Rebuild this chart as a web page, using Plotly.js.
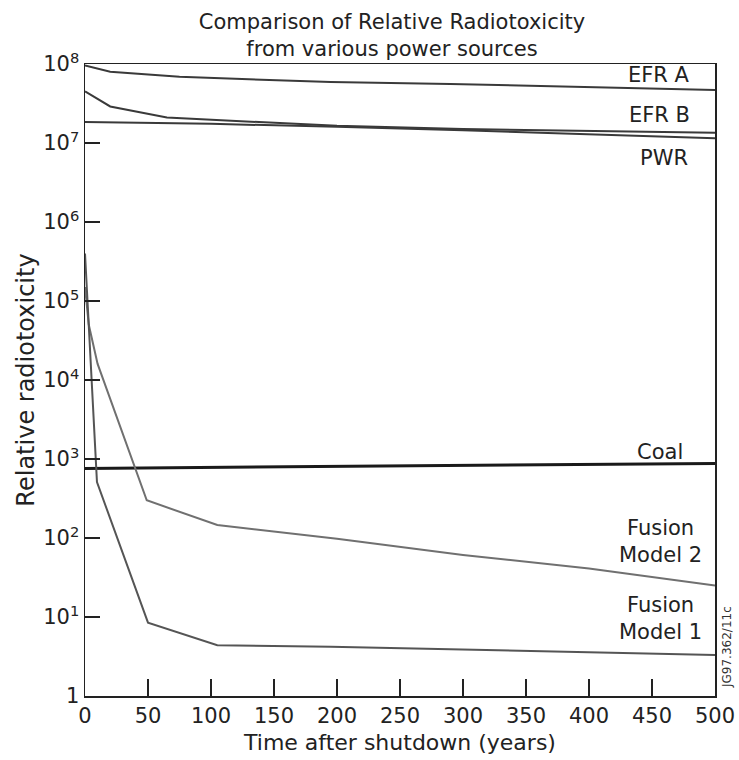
<!DOCTYPE html>
<html>
<head>
<meta charset="utf-8">
<script src="https://cdn.plot.ly/plotly-3.0.1.min.js"></script>
<style>html,body{margin:0;padding:0;background:#fff;}#chart{width:739px;height:760px;}</style>
</head>
<body>
<div id="chart"></div>
<script>
// Years after shutdown and relative radiotoxicity
const efrA_t = [0, 20, 75, 195, 290, 500];
const efrA_v = [9.6e7, 8.0e7, 6.9e7, 5.9e7, 5.6e7, 4.7e7];

const efrB_t = [0, 20, 65, 200, 300, 500];
const efrB_v = [4.5e7, 2.9e7, 2.1e7, 1.65e7, 1.5e7, 1.35e7];

const pwr_t = [0, 100, 200, 300, 500];
const pwr_v = [1.85e7, 1.75e7, 1.6e7, 1.45e7, 1.15e7];

const coal_t = [0, 500];
const coal_v = [760, 880];

const fus2_t = [0, 3, 10, 49, 105, 200, 300, 400, 500];
const fus2_v = [1.5e5, 5e4, 1.6e4, 300, 146, 98, 61, 41, 25];

const fus1_t = [0, 9.5, 50, 105, 195, 395, 500];
const fus1_v = [4e5, 510, 8.5, 4.4, 4.2, 3.6, 3.3];

const yTickVals = [1, 10, 100, 1e3, 1e4, 1e5, 1e6, 1e7, 1e8];
const yTickText = ['1', '10<sup>1</sup>', '10<sup>2</sup>', '10<sup>3</sup>', '10<sup>4</sup>',
                   '10<sup>5</sup>', '10<sup>6</sup>', '10<sup>7</sup>', '10<sup>8</sup>'];
const xTickVals = [0, 50, 100, 150, 200, 250, 300, 350, 400, 450, 500];

const seriesLabels = ['EFR A', 'EFR B', 'PWR', 'Coal', 'Fusion<br>Model 2', 'Fusion<br>Model 1'];

const FONT = 'DejaVu Sans, Liberation Sans, Arial, sans-serif';
const dark = '#3a3a3a';
const grey = '#707070';

function line(x, y, color, width, name) {
  return {x: x, y: y, type: 'scatter', mode: 'lines', name: name,
          line: {color: color, width: width}, hoverinfo: 'skip'};
}

const data = [
  line(efrA_t, efrA_v, dark, 2, 'EFR A'),
  line(efrB_t, efrB_v, dark, 2, 'EFR B'),
  line(pwr_t, pwr_v, dark, 2, 'PWR'),
  line(coal_t, coal_v, '#1a1a1a', 3, 'Coal'),
  line(fus2_t, fus2_v, grey, 2, 'Fusion Model 2'),
  line(fus1_t, fus1_v, '#555555', 2, 'Fusion Model 1')
];

const labelFont = {family: FONT, size: 21, color: '#222'};
function lab(text, x, y, anchor) {
  return {text: text, xref: 'paper', yref: 'paper', x: x, y: y,
          xanchor: anchor, yanchor: 'middle', align: 'center',
          showarrow: false, font: labelFont};
}

const layout = {
  width: 739, height: 760,
  margin: {l: 85, r: 24, t: 64, b: 64},
  paper_bgcolor: '#fff', plot_bgcolor: '#fff',
  showlegend: false,
  font: {family: FONT, color: '#222'},
  title: {
    text: 'Comparison of Relative Radiotoxicity<br>from various power sources',
    font: {family: FONT, size: 21, color: '#222'},
    x: 392 / 739, xanchor: 'center', y: 1 - 29 / 760, yanchor: 'middle'
  },
  xaxis: {
    range: [0, 500], tickvals: xTickVals, ticks: 'inside', ticklen: 17, tickwidth: 1.5,
    tickcolor: '#222', showline: true, linecolor: '#222', linewidth: 1.5, mirror: true,
    showgrid: false, zeroline: false,
    tickfont: {family: FONT, size: 21, color: '#222'},
    title: {text: 'Time after shutdown (years)', font: {family: FONT, size: 22, color: '#222'}, standoff: 8}
  },
  yaxis: {
    type: 'log', range: [0, 8], tickvals: yTickVals, ticktext: yTickText,
    ticks: 'inside', ticklen: 15, tickwidth: 1.5, tickcolor: '#222',
    showline: true, linecolor: '#222', linewidth: 1.5, mirror: true,
    showgrid: false, zeroline: false,
    tickfont: {family: FONT, size: 21, color: '#222'},
    title: {text: 'Relative radiotoxicity', font: {family: FONT, size: 24, color: '#222'}, standoff: 2}
  },
  annotations: [
    lab(seriesLabels[0], 0.9635, 0.9826, 'right'),
    lab(seriesLabels[1], 0.9635, 0.9193, 'right'),
    lab(seriesLabels[2], 0.960, 0.851, 'right'),
    lab(seriesLabels[3], 0.952, 0.386, 'right'),
    lab(seriesLabels[4], 0.9127, 0.245, 'center'),
    lab(seriesLabels[5], 0.9127, 0.122, 'center'),
    {text: 'JG97.362/11c', xref: 'paper', yref: 'paper', x: 1.019, y: 0.0775,
     xanchor: 'center', yanchor: 'middle', textangle: -90, showarrow: false,
     font: {family: FONT, size: 12, color: '#333'}}
  ]
};

Plotly.newPlot('chart', data, layout, {staticPlot: true, displayModeBar: false});
</script>
</body>
</html>
